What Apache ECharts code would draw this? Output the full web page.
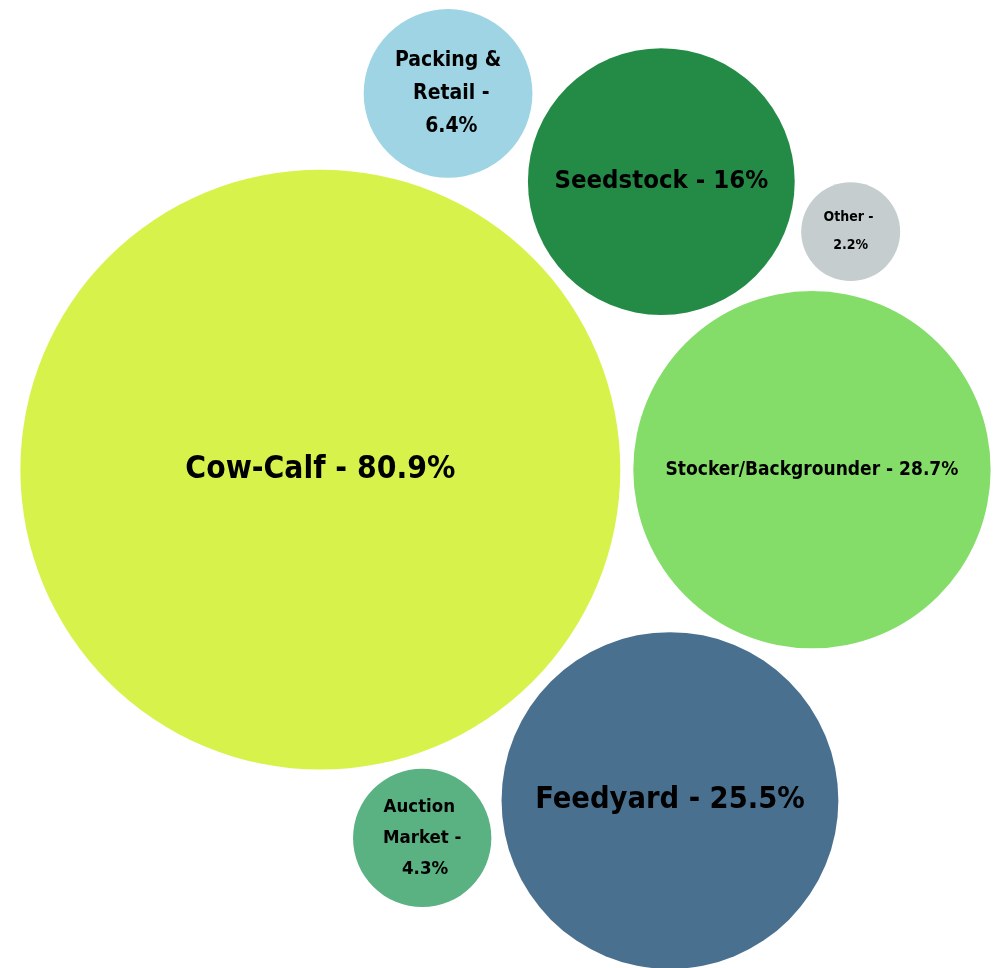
<!DOCTYPE html>
<html>
<head>
<meta charset="utf-8">
<title>Beef industry segments</title>
<script src="https://cdn.jsdelivr.net/npm/echarts@6/dist/echarts.min.js"></script>
<style>
  html, body { margin: 0; padding: 0; background: #ffffff; }
  #chart { width: 999px; height: 968px; }
</style>
</head>
<body>
<div id="chart"></div>
<script>
// Segment names and their shares (%)
const categories = ['Cow-Calf', 'Stocker/Backgrounder', 'Feedyard', 'Seedstock', 'Other', 'Packing & Retail', 'Auction Market'];
const shares = [80.9, 28.7, 25.5, 16, 2.2, 6.4, 4.3];

// Bubble colours, label font sizes, line heights and wrap widths per segment
const colors = ['#d7f34b', '#84dd68', '#4a708f', '#238b45', '#c5cdcf', '#9ed4e3', '#5ab283'];
const fontSizes = [31.5, 19, 30.5, 25.5, 14, 21, 18.5];
const lineHeights = [40, 24, 40, 32, 28, 33, 31];
const wrapWidths = [null, null, null, null, 60, 118, 94];

// Packing rules: each bubble after the first two sits tangent to two earlier ones
// [index, neighbourA, neighbourB, side]
const packRules = [
  [2, 0, 1, 1],
  [3, 0, 1, -1],
  [4, 3, 1, -1],
  [5, 0, 3, -1],
  [6, 0, 2, 1]
];

const W = 999, H = 968;
const K = 33.35;   // px of radius per sqrt(share)
const GAP = 13;    // spacing between neighbouring bubbles
const NUDGE_X = 6, NUDGE_Y = 5;

const radius = shares.map(v => K * Math.sqrt(v));

// Lay the bubbles out in pixel-sized units
const pos = new Array(shares.length);
pos[0] = [0, 0];
pos[1] = [radius[0] + GAP + radius[1], 0];

function tangentTo(a, b, r, side) {
  const [ax, ay] = pos[a], [bx, by] = pos[b];
  const dx = bx - ax, dy = by - ay;
  const d = Math.hypot(dx, dy);
  const dA = radius[a] + r + GAP, dB = radius[b] + r + GAP;
  const l = (dA * dA - dB * dB + d * d) / (2 * d);
  const h = Math.sqrt(Math.max(0, dA * dA - l * l));
  const ux = dx / d, uy = dy / d;
  const nx = -uy, ny = ux;
  return [ax + l * ux + side * h * nx, ay + l * uy + side * h * ny];
}

packRules.forEach(([i, a, b, side]) => {
  pos[i] = tangentTo(a, b, radius[i], side);
});

// Bounding box of the packed layout, centred in the canvas
let minX = Infinity, maxX = -Infinity, minY = Infinity, maxY = -Infinity;
pos.forEach(([x, y], i) => {
  minX = Math.min(minX, x - radius[i]);
  maxX = Math.max(maxX, x + radius[i]);
  minY = Math.min(minY, y - radius[i]);
  maxY = Math.max(maxY, y + radius[i]);
});
const xMin = minX - (W - (maxX - minX)) / 2 - NUDGE_X;
const yMin = minY - (H - (maxY - minY)) / 2 - NUDGE_Y;

const FONT = "'DejaVu Sans Condensed', 'Liberation Sans Narrow', sans-serif";

const seriesData = categories.map((name, i) => {
  const label = {
    fontSize: fontSizes[i],
    lineHeight: lineHeights[i]
  };
  if (wrapWidths[i]) {
    label.width = wrapWidths[i];
    label.overflow = 'break';
  }
  return {
    name: name,
    value: [pos[i][0], pos[i][1], shares[i]],
    itemStyle: { color: colors[i], opacity: 1 },
    label: label
  };
});

const chart = echarts.init(document.getElementById('chart'), null, { renderer: 'canvas' });

chart.setOption({
  animation: false,
  backgroundColor: '#ffffff',
  grid: { left: 0, right: 0, top: 0, bottom: 0 },
  xAxis: { type: 'value', min: xMin, max: xMin + W, show: false },
  yAxis: { type: 'value', min: yMin, max: yMin + H, inverse: true, show: false },
  series: [{
    type: 'scatter',
    data: seriesData,
    symbol: 'circle',
    symbolSize: val => 2 * K * Math.sqrt(val[2]),
    itemStyle: { opacity: 1 },
    emphasis: { disabled: true },
    label: {
      show: true,
      position: 'inside',
      color: '#000000',
      fontFamily: FONT,
      fontWeight: 'bold',
      align: 'center',
      formatter: p => p.name + ' - ' + p.value[2] + '%'
    }
  }]
});
</script>
</body>
</html>
